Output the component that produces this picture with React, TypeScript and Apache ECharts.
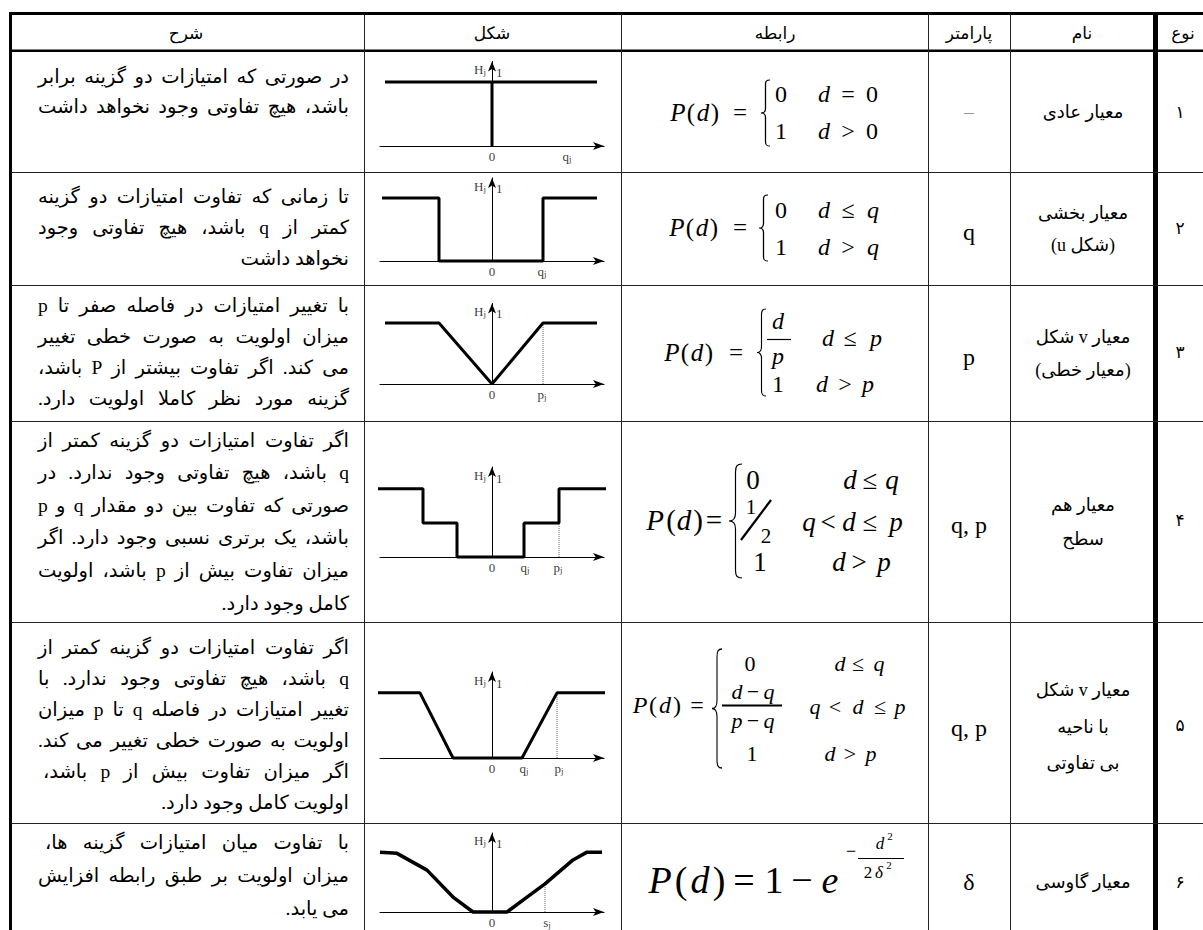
import React, { useEffect, useRef } from 'react';
import * as echarts from 'echarts';

// ---------------- DATA ----------------
const HEADERS = ['شرح', 'شکل', 'رابطه', 'پارامتر', 'نام', 'نوع'];
const TYPE_NUMBERS = ['۱', '۲', '۳', '۴', '۵', '۶'];
const PARAMS = ['–', 'q', 'p', 'q, p', 'q, p', 'δ'];
const NAMES = [
  ['معیار عادی'],
  ['معیار بخشی', '(شکل u)'],
  ['معیار v شکل', '(معیار خطی)'],
  ['معیار هم', 'سطح'],
  ['معیار v شکل', 'با ناحیه', 'بی تفاوتی'],
  ['معیار گاوسی'],
];
const DESCRIPTIONS = [
  ['در صورتی که امتیازات دو گزینه برابر', 'باشد، هیچ تفاوتی وجود نخواهد داشت'],
  ['تا زمانی که تفاوت امتیازات دو گزینه', 'کمتر از q باشد، هیچ تفاوتی وجود', 'نخواهد داشت'],
  ['با تغییر امتیازات در فاصله صفر تا p', 'میزان اولویت به صورت خطی تغییر', 'می کند. اگر تفاوت بیشتر از P باشد،', 'گزینه مورد نظر کاملا اولویت دارد.'],
  ['اگر تفاوت امتیازات دو گزینه کمتر از', 'q باشد، هیچ تفاوتی وجود ندارد. در', 'صورتی که تفاوت بین دو مقدار q و p', 'باشد، یک برتری نسبی وجود دارد. اگر', 'میزان تفاوت بیش از p باشد، اولویت', 'کامل وجود دارد.'],
  ['اگر تفاوت امتیازات دو گزینه کمتر از', 'q باشد، هیچ تفاوتی وجود ندارد. با', 'تغییر امتیازات در فاصله q تا p میزان', 'اولویت به صورت خطی تغییر می کند.', 'اگر میزان تفاوت بیش از p باشد،', 'اولویت کامل وجود دارد.'],
  ['با تفاوت میان امتیازات گزینه ها،', 'میزان اولویت بر طبق رابطه افزایش', 'می یابد.'],
];

// preference-function shapes (x: difference d, y: preference H)
const USUAL_TOP = [[-1.07, 1], [1.05, 1]];
const USUAL_JUMP = [[0, 0], [0, 1]];
const USHAPE_LINE = [[-1.1, 1], [-0.53, 1], [-0.53, 0], [0.51, 0], [0.51, 1], [1.05, 1]];
const VSHAPE_LINE = [[-1.07, 1], [-0.53, 1], [0, 0], [0.51, 1], [1.05, 1]];
const VSHAPE_DOT = [[0.51, 0], [0.51, 1]];
const LEVEL_LINE = [[-1.16, 1], [-0.69, 1], [-0.69, 0.5], [-0.35, 0.5], [-0.35, 0], [0.32, 0], [0.32, 0.5], [0.67, 0.5], [0.67, 1], [1.14, 1]];
const LEVEL_DOT = [[0.67, 0], [0.67, 0.5]];
const LINEAR_LINE = [[-1.2, 1], [-0.72, 1], [-0.39, 0], [0.3, 0], [0.65, 1], [1.13, 1]];
const LINEAR_DOT = [[0.65, 0], [0.65, 1]];
const GAUSS_LINE = [[-1.12, 1], [-0.95, 0.98], [-0.65, 0.7], [-0.39, 0.25], [-0.19, 0], [0.15, 0], [0.35, 0.25], [0.53, 0.47], [0.81, 0.87], [0.95, 1], [1.1, 1]];
const GAUSS_DOT = [[0.53, 0], [0.53, 0.47]];

const SHAPE_SOLID = [[USUAL_TOP, USUAL_JUMP], [USHAPE_LINE], [VSHAPE_LINE], [LEVEL_LINE], [LINEAR_LINE], [GAUSS_LINE]];
const SHAPE_DOTTED = [[], [], [VSHAPE_DOT], [LEVEL_DOT], [LINEAR_DOT], [GAUSS_DOT]];
// axis marks: [value, letter, subscript]
const SHAPE_MARKS: [number, string, string][][] = [
  [[0, '0', ''], [0.75, 'q', 'j']],
  [[0, '0', ''], [0.5, 'q', 'j']],
  [[0, '0', ''], [0.5, 'p', 'j']],
  [[0, '0', ''], [0.33, 'q', 'j'], [0.66, 'p', 'j']],
  [[0, '0', ''], [0.32, 'q', 'j'], [0.67, 'p', 'j']],
  [[0, '0', ''], [0.55, 's', 'j']],
];

// ---------------- LAYOUT ----------------
const SERIF = "'Liberation Serif', 'DejaVu Serif', serif";
const PERSIAN = "'Liberation Serif', 'DejaVu Sans', sans-serif";
const COL_LINES = [364.5, 621.5, 928.5, 1010.5];
const ROW_LINES = [172.5, 285.5, 421.5, 622.5, 823.5];
const HEADER_X = [186, 492, 775, 969, 1082, 1183];
const PARAM_Y = [112, 232, 357, 525, 728, 882];
const TYPE_Y = [112, 228, 352, 520, 725, 882];
const DESC_FIRST = [76, 196, 305, 440, 647, 842];
const DESC_STEP = [30.5, 31, 31, 32.6, 31, 33];
// target widths of the justified lines (0 = natural width, right aligned)
const DESC_WIDTH = [[311, 311], [311, 311, 0], [311, 311, 311, 311], [311, 311, 311, 311, 311, 0], [311, 311, 311, 311, 306, 0], [304, 311, 0]];
const DESC_RIGHT = 349;
const DESC_SIZE = 19.5;
const NAME_Y = [[112], [213, 245], [337, 370], [505, 539], [690, 727, 763], [882]];
const GRIDS = [
  { top: 61.5, height: 84.5 },
  { top: 178, height: 83 },
  { top: 303.5, height: 80.5 },
  { top: 467, height: 90 },
  { top: 672, height: 86 },
  { top: 833, height: 79 },
];

const BRACE_D = 'M10 0 C6 0 5 2 5 7 L5 43 C5 48 3 50 0 50 C3 50 5 52 5 57 L5 93 C5 98 6 100 10 100';
echarts.graphic.registerShape('brace', echarts.graphic.extendPath(BRACE_D, {}));

const rtl = (s: string) => '\u202B' + s + '\u202C';

function txt(x: number, y: number, text: string, size: number, family: string, align = 'center', extra: any = {}) {
  return {
    type: 'text',
    x,
    y,
    silent: true,
    style: {
      text,
      fill: extra.fill || '#000',
      fontSize: size,
      fontFamily: family,
      fontStyle: extra.fontStyle || 'normal',
      fontWeight: extra.fontWeight || 'normal',
      align,
      textAlign: align,
      verticalAlign: 'middle',
      textVerticalAlign: 'middle',
    },
    z: 10,
  };
}

// math piece: [centerX, text, italic]
type Piece = [number, string, boolean?];
function seq(y: number, size: number, pieces: Piece[]) {
  return pieces.map(([cx, t, it]) => txt(cx, y, t, size, SERIF, 'center', { fontStyle: it ? 'italic' : 'normal' }));
}

function brace(x: number, y: number, w: number, h: number) {
  return {
    type: 'brace',
    x,
    y,
    scaleX: w / 10,
    scaleY: h / 100,
    silent: true,
    style: { stroke: '#000', fill: 'none', lineWidth: 1.1, strokeNoScale: true },
    z: 10,
  };
}

function seg(x1: number, y1: number, x2: number, y2: number, w = 1) {
  return { type: 'line', silent: true, shape: { x1, y1, x2, y2 }, style: { stroke: '#000', lineWidth: w }, z: 10 };
}

function buildFormulas() {
  const g: any[] = [];
  // row 1
  g.push(...seq(112, 25, [[678, 'P', true], [691, '('], [703, 'd', true], [715, ')'], [740, '=']]));
  g.push(brace(761, 80, 9, 66));
  g.push(...seq(94, 24, [[781, '0'], [824, 'd', true], [848, '='], [872, '0']]));
  g.push(...seq(131, 24, [[781, '1'], [824, 'd', true], [848, '>'], [872, '0']]));
  // row 2
  g.push(...seq(227, 25, [[677, 'P', true], [690, '('], [702, 'd', true], [714, ')'], [740, '=']]));
  g.push(brace(759, 195, 9, 66));
  g.push(...seq(210, 24, [[781, '0'], [824, 'd', true], [848, '≤'], [873, 'q', true]]));
  g.push(...seq(247, 24, [[781, '1'], [824, 'd', true], [848, '>'], [873, 'q', true]]));
  // row 3
  g.push(...seq(352, 25, [[672, 'P', true], [685, '('], [697, 'd', true], [709, ')'], [736, '=']]));
  g.push(brace(757, 309, 9, 87));
  g.push(...seq(321, 24, [[778, 'd', true]]));
  g.push(seg(767, 339.5, 791, 339.5, 1.2));
  g.push(...seq(356, 24, [[778, 'p', true]]));
  g.push(...seq(338, 24, [[828, 'd', true], [850, '≤'], [876, 'p', true]]));
  g.push(...seq(384, 24, [[778, '1'], [822, 'd', true], [845, '>'], [868, 'p', true]]));
  // row 4
  g.push(...seq(520, 29, [[655, 'P', true], [671, '('], [684, 'd', true], [698, ')'], [714, '=']]));
  g.push(brace(729, 464, 13, 114));
  g.push(...seq(480, 27, [[753, '0'], [850, 'd', true], [870, '≤'], [892, 'q', true]]));
  g.push(...seq(507, 21, [[751, '1']]));
  g.push(seg(741, 540, 771, 500, 2.2));
  g.push(...seq(536, 21, [[766, '2']]));
  g.push(...seq(522, 27, [[809, 'q', true], [828, '<'], [849, 'd', true], [870, '≤'], [896, 'p', true]]));
  g.push(...seq(562, 27, [[760, '1'], [839, 'd', true], [859, '>'], [884, 'p', true]]));
  // row 5
  g.push(...seq(705, 24, [[640, 'P', true], [653, '('], [665, 'd', true], [677, ')'], [697, '=']]));
  g.push(brace(712, 649, 10, 119));
  g.push(...seq(663, 22, [[750, '0'], [840, 'd', true], [858, '≤'], [879, 'q', true]]));
  g.push(...seq(691, 22, [[737, 'd', true], [753, '−'], [769, 'q', true]]));
  g.push(seg(722, 705.5, 782, 705.5, 2));
  g.push(...seq(720, 22, [[737, 'p', true], [753, '−'], [769, 'q', true]]));
  g.push(...seq(706, 22, [[815, 'q', true], [835, '<'], [858, 'd', true], [880, '≤'], [900, 'p', true]]));
  g.push(...seq(753, 22, [[752, '1'], [830, 'd', true], [850, '>'], [871, 'p', true]]));
  // row 6
  g.push(...seq(880, 38, [[660, 'P', true], [681, '('], [700, 'd', true], [719, ')'], [744, '='], [774, '1'], [802, '−'], [830, 'e', true]]));
  g.push(...seq(851, 18, [[851, '−']]));
  g.push(...seq(843, 17, [[880, 'd', true]]));
  g.push(...seq(836, 11, [[890, '2']]));
  g.push(seg(858, 858.5, 904, 858.5, 1));
  g.push(...seq(872, 17, [[868, '2'], [879, 'δ', true]]));
  g.push(...seq(865, 11, [[889, '2']]));
  return g;
}

let measureCtx: CanvasRenderingContext2D | null = null;
function measure(text: string, size: number) {
  if (!measureCtx) measureCtx = document.createElement('canvas').getContext('2d');
  if (!measureCtx) return text.length * size * 0.5;
  measureCtx.font = `${size}px ${PERSIAN}`;
  return measureCtx.measureText(text).width;
}

function descLine(line: string, y: number, width: number) {
  const out: any[] = [];
  if (!width) {
    out.push(txt(DESC_RIGHT, y, rtl(line), DESC_SIZE, PERSIAN, 'right'));
    return out;
  }
  const words = line.split(' ');
  const ws = words.map((w) => measure(w, DESC_SIZE));
  const total = ws.reduce((a, b) => a + b, 0);
  const gap = words.length > 1 ? Math.max(3, (width - total) / (words.length - 1)) : 0;
  let x = DESC_RIGHT;
  words.forEach((w, i) => {
    out.push(txt(x, y, rtl(w), DESC_SIZE, PERSIAN, 'right'));
    x -= ws[i] + gap;
  });
  return out;
}

function buildTable() {
  const g: any[] = [];
  // thick borders
  g.push({ type: 'rect', silent: true, shape: { x: 9, y: 12, width: 1194, height: 3 }, style: { fill: '#000' }, z: 5 });
  g.push({ type: 'rect', silent: true, shape: { x: 9, y: 49.5, width: 1194, height: 2.5 }, style: { fill: '#000' }, z: 5 });
  g.push({ type: 'rect', silent: true, shape: { x: 9, y: 12, width: 3, height: 918 }, style: { fill: '#000' }, z: 5 });
  g.push({ type: 'rect', silent: true, shape: { x: 1153, y: 12, width: 5, height: 918 }, style: { fill: '#000' }, z: 5 });
  COL_LINES.forEach((x) => g.push({ type: 'line', silent: true, shape: { x1: x, y1: 14, x2: x, y2: 930 }, style: { stroke: '#222', lineWidth: 1 }, z: 5 }));
  ROW_LINES.forEach((y) => g.push({ type: 'line', silent: true, shape: { x1: 11, y1: y, x2: 1203, y2: y }, style: { stroke: '#222', lineWidth: 1 }, z: 5 }));
  // headers
  HEADERS.forEach((h, i) => g.push(txt(HEADER_X[i], 33, rtl(h), 17, PERSIAN)));
  // descriptions
  DESCRIPTIONS.forEach((lines, r) =>
    lines.forEach((line, k) => g.push(...descLine(line, DESC_FIRST[r] + k * DESC_STEP[r], DESC_WIDTH[r][k])))
  );
  // params
  PARAMS.forEach((p, r) =>
    g.push(txt(969, PARAM_Y[r], p, r === 0 ? 20 : 24, SERIF, 'center', { fill: r === 0 ? '#999' : '#000' }))
  );
  // names
  NAMES.forEach((lines, r) => lines.forEach((line, k) => g.push(txt(1083, NAME_Y[r][k], rtl(line), 18, PERSIAN))));
  // type numbers
  TYPE_NUMBERS.forEach((n, r) => g.push(txt(1180, TYPE_Y[r], n, 17, PERSIAN)));
  return g;
}

const LABEL_RICH = {
  m: { fontFamily: SERIF, fontSize: 13, color: '#000', lineHeight: 14 },
  s: { fontFamily: SERIF, fontSize: 9, color: '#000', lineHeight: 6, verticalAlign: 'bottom' },
};

function buildOption() {
  const grid: any[] = [];
  const xAxis: any[] = [];
  const yAxis: any[] = [];
  const series: any[] = [];
  GRIDS.forEach((gb, i) => {
    grid.push({ left: 380, width: 224, top: gb.top, height: gb.height, containLabel: false });
    xAxis.push({
      gridIndex: i, type: 'value', min: -1.12, max: 1.12,
      axisLine: { show: true, onZero: true, symbol: ['none', 'arrow'], symbolSize: [6, 11], lineStyle: { color: '#000', width: 1 } },
      axisTick: { show: false }, axisLabel: { show: false }, splitLine: { show: false },
    });
    yAxis.push({
      gridIndex: i, type: 'value', min: 0, max: 1.32,
      axisLine: { show: true, onZero: true, symbol: ['none', 'arrow'], symbolSize: [6, 10], lineStyle: { color: '#000', width: 1 } },
      axisTick: { show: false }, axisLabel: { show: false }, splitLine: { show: false },
    });
    SHAPE_SOLID[i].forEach((d) =>
      series.push({
        type: 'line', xAxisIndex: i, yAxisIndex: i, data: d, symbol: 'none', clip: false, silent: true, z: 4,
        lineStyle: { color: '#000', width: i === 5 ? 3.5 : 3 },
      })
    );
    SHAPE_DOTTED[i].forEach((d) =>
      series.push({
        type: 'line', xAxisIndex: i, yAxisIndex: i, data: d, symbol: 'none', clip: false, silent: true, z: 3,
        lineStyle: { color: '#666', width: 1, type: [1, 1] },
      })
    );
    const marks: any[] = SHAPE_MARKS[i].map(([v, t, s]) => ({
      value: [v, 0],
      label: { show: true, color: '#000', position: 'bottom', distance: 3, formatter: s ? `{m|${t}}{s|${s}}` : `{m|${t}}`, rich: LABEL_RICH },
    }));
    marks.push({ value: [0, 1.19], label: { show: true, color: '#000', position: 'left', distance: 6, formatter: '{m|H}{s|j}', rich: LABEL_RICH } });
    marks.push({ value: [0, 1.15], label: { show: true, color: '#000', position: 'right', distance: 4, formatter: '{m|1}', rich: LABEL_RICH } });
    series.push({ type: 'scatter', xAxisIndex: i, yAxisIndex: i, symbolSize: 0, data: marks, silent: true, clip: false, itemStyle: { color: '#000' } });
  });
  return {
    animation: false,
    backgroundColor: '#fff',
    grid, xAxis, yAxis, series,
    graphic: [...buildTable(), ...buildFormulas()],
  };
}

export default function App() {
  const ref = useRef<HTMLDivElement>(null);
  useEffect(() => {
    if (!ref.current) return;
    const chart = echarts.init(ref.current, undefined, { renderer: 'svg' });
    chart.setOption(buildOption() as any);
    return () => chart.dispose();
  }, []);
  return <div ref={ref} style={{ position: 'absolute', left: 0, top: 0, width: 1203, height: 930 }} />;
}
